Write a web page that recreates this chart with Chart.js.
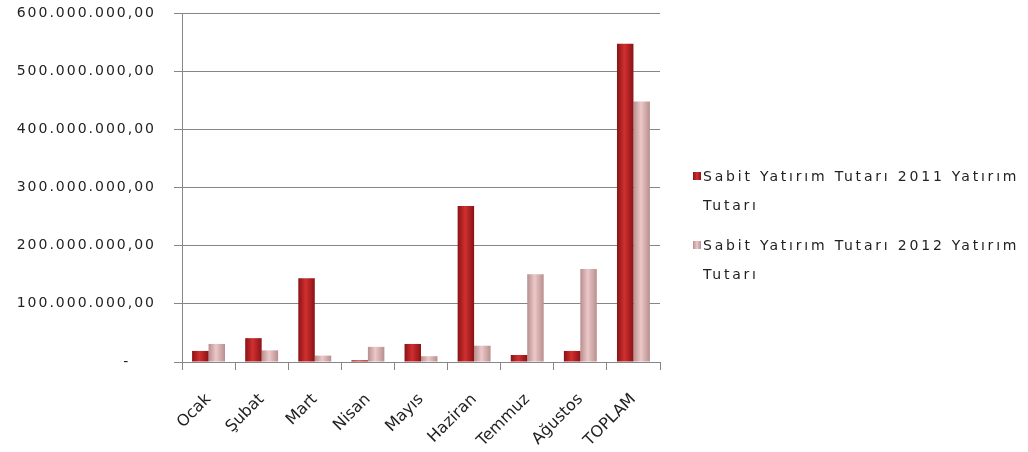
<!DOCTYPE html>
<html>
<head>
<meta charset="utf-8">
<script src="https://cdn.jsdelivr.net/npm/chart.js@4.4.1/dist/chart.umd.min.js"></script>
<style>
  html, body { margin: 0; padding: 0; background: #fff; }
  #wrap { position: relative; width: 1028px; height: 452px; }
  #legend { position: absolute; left: 693px; top: 162px; width: 335px;
    font-family: "DejaVu Sans", sans-serif; font-size: 14px; letter-spacing: 2.8px; color: #222; }
  .item { position: relative; padding-left: 10px; line-height: 29px; margin-bottom: 11px; }
  .box { position: absolute; left: 0; top: 10px; width: 8px; height: 8px; }
</style>
</head>
<body>
<div id="wrap">
  <canvas id="graph" width="1028" height="452"></canvas>
  <div id="legend"></div>
</div>
<script>
const months = ["Ocak", "Şubat", "Mart", "Nisan", "Mayıs", "Haziran", "Temmuz", "Ağustos", "TOPLAM"];
const seriesNames = ["Sabit Yatırım Tutarı 2011 Yatırım Tutarı", "Sabit Yatırım Tutarı 2012 Yatırım Tutarı"];
const values2011 = [19000000, 41000000, 144000000, 3000000, 31000000, 268000000, 12000000, 19000000, 547000000];
const values2012 = [31000000, 20000000, 11000000, 26000000, 10000000, 28000000, 151000000, 160000000, 448000000];
const yTicks = [0, 100000000, 200000000, 300000000, 400000000, 500000000, 600000000];
const colors = ["#b61b1f", "#dcaeae"];
const edgeColors = ["#8a1216", "#b88e8e"];
const lightColors = ["#d0302f", "#ecc8c8"];
const catPct = 0.62;

function formatTR(v) {
  if (v === 0) return "-    ";
  const s = Math.round(v).toString().replace(/\B(?=(\d{3})+(?!\d))/g, ".");
  return s + ",00";
}

// horizontal shading across each bar, using the x scale positions
function barFill(ctx) {
  const chart = ctx.chart;
  const ds = ctx.datasetIndex;
  const xs = chart.scales.x;
  if (!chart.chartArea || !xs || ctx.dataIndex === undefined) return colors[ds];
  const center = xs.getPixelForValue(ctx.dataIndex);
  const bw = (chart.chartArea.width / months.length) * catPct / 2;
  const left = ds === 0 ? center - bw : center;
  const g = chart.ctx.createLinearGradient(left, 0, left + bw, 0);
  g.addColorStop(0, edgeColors[ds]);
  g.addColorStop(0.45, lightColors[ds]);
  g.addColorStop(1, edgeColors[ds]);
  return g;
}

// linear scale whose labels get the wide spacing of the original font
class SpacedLinearScale extends Chart.LinearScale {
  drawLabels(area) {
    this.ctx.save();
    this.ctx.letterSpacing = "2px";
    super.drawLabels(area);
    this.ctx.restore();
  }
}
SpacedLinearScale.id = "spacedLinear";
SpacedLinearScale.defaults = Chart.LinearScale.defaults;
Chart.register(SpacedLinearScale);

const chartInstance = new Chart(document.getElementById("graph"), {
  type: "bar",
  data: {
    labels: months,
    datasets: [
      { label: seriesNames[0], data: values2011, backgroundColor: barFill, borderWidth: 0 },
      { label: seriesNames[1], data: values2012, backgroundColor: barFill, borderWidth: 0 }
    ]
  },
  options: {
    responsive: false,
    animation: false,
    layout: { padding: { top: 13, right: 368, left: 0, bottom: 0 } },
    categoryPercentage: catPct,
    barPercentage: 1.0,
    plugins: { legend: { display: false }, tooltip: { enabled: false } },
    scales: {
      x: {
        grid: { offset: true, drawOnChartArea: false, color: "#868686", tickLength: 8 },
        border: { color: "#868686" },
        ticks: {
          minRotation: 45, maxRotation: 45, color: "#222", padding: 20,
          font: { family: "DejaVu Sans", size: 16 }
        },
        afterFit(scale) { scale.height = 90; }
      },
      y: {
        type: "spacedLinear",
        min: 0, max: 600000000,
        afterBuildTicks(scale) { scale.ticks = yTicks.map(v => ({ value: v })); },
        grid: { color: "#868686", tickLength: 8 },
        border: { color: "#868686" },
        ticks: {
          padding: 18, color: "#222",
          font: { family: "DejaVu Sans", size: 14 },
          callback: (v) => formatTR(v)
        },
        afterFit(scale) {
          scale.width = 182;
          scale.paddingTop = 0;
          scale.paddingBottom = 0;
        }
      }
    }
  }
});

// legend built from the dataset labels
const legend = document.getElementById("legend");
chartInstance.data.datasets.forEach((ds, i) => {
  const item = document.createElement("div");
  item.className = "item";
  const box = document.createElement("span");
  box.className = "box";
  box.style.background = "linear-gradient(to right, " + edgeColors[i] + ", " + lightColors[i] + ", " + edgeColors[i] + ")";
  item.appendChild(box);
  item.appendChild(document.createTextNode(ds.label));
  legend.appendChild(item);
});
</script>
</body>
</html>
